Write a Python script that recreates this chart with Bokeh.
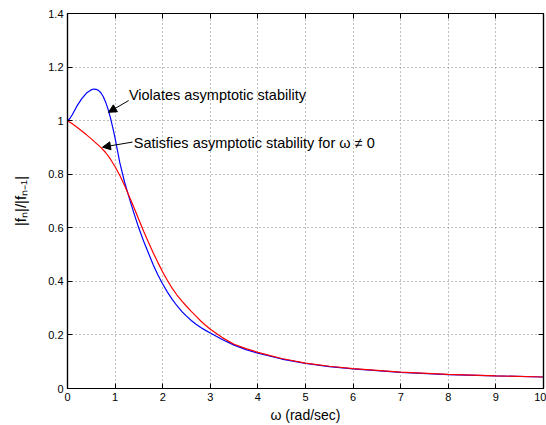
from bokeh.plotting import figure
from bokeh.models import FixedTicker, LinearAxis, Label, Arrow, NormalHead, Range1d
from bokeh.embed import file_html
from bokeh.resources import INLINE

# ---- data ----
x_ticks = [0, 1, 2, 3, 4, 5, 6, 7, 8, 9, 10]
x_tick_labels = ["0", "1", "2", "3", "4", "5", "6", "7", "8", "9", "10"]
y_ticks = [0, 0.2, 0.4, 0.6, 0.8, 1.0, 1.2, 1.4]
y_tick_labels = ["0", "0.2", "0.4", "0.6", "0.8", "1", "1.2", "1.4"]

omega_blue = [0, 0.05, 0.1, 0.2, 0.3, 0.4, 0.5, 0.55, 0.6, 0.65, 0.7, 0.75, 0.8,
              0.85, 0.9, 0.95, 1.0, 1.05, 1.1, 1.2, 1.3, 1.4, 1.5, 1.6, 1.7,
              1.8, 1.9, 2.0, 2.1, 2.2, 2.3, 2.4, 2.5, 2.6, 2.7, 2.8, 2.9, 3.0,
              3.25, 3.5, 3.75, 4.0, 4.5, 5, 5.5, 6, 7, 8, 9, 10]
ratio_blue = [1.0, 1.008, 1.022, 1.055, 1.082, 1.103, 1.115, 1.118, 1.117, 1.113,
              1.104, 1.09, 1.07, 1.044, 1.012, 0.975, 0.935, 0.888, 0.842, 0.77,
              0.71, 0.652, 0.598, 0.55, 0.506, 0.462, 0.424, 0.39, 0.36, 0.333,
              0.309, 0.288, 0.27, 0.254, 0.24, 0.228, 0.217, 0.207, 0.183, 0.162,
              0.145, 0.132, 0.11, 0.094, 0.082, 0.073, 0.06, 0.052, 0.047, 0.043]

omega_red = [0, 0.1, 0.2, 0.3, 0.4, 0.5, 0.6, 0.7, 0.8, 0.9, 1.0, 1.1, 1.2, 1.3,
             1.4, 1.5, 1.6, 1.7, 1.8, 1.9, 2.0, 2.1, 2.2, 2.3, 2.4, 2.5, 2.6,
             2.7, 2.8, 2.9, 3.0, 3.25, 3.5, 3.75, 4.0, 4.5, 5, 5.5, 6, 7, 8, 9, 10]
ratio_red = [1.0, 0.988, 0.975, 0.961, 0.947, 0.932, 0.916, 0.9, 0.881, 0.857,
             0.828, 0.795, 0.758, 0.716, 0.674, 0.63, 0.587, 0.546, 0.507, 0.47,
             0.435, 0.403, 0.374, 0.349, 0.327, 0.307, 0.288, 0.27, 0.252, 0.236,
             0.221, 0.19, 0.165, 0.149, 0.135, 0.112, 0.095, 0.083, 0.074, 0.061,
             0.053, 0.047, 0.043]

violates_text = "Violates asymptotic stability"
satisfies_text = "Satisfies asymptotic stability for \u03c9 \u2260 0"
x_label = "\u03c9 (rad/sec)"
y_label = "|f\u2099|/|f\u2099\u208b\u2081|"

FONT = "Liberation Sans"

p = figure(width=546, height=425, output_backend="svg", toolbar_location=None,
           x_range=Range1d(0, 10), y_range=Range1d(0, 1.4),
           min_border_left=67, min_border_right=3, min_border_top=13,
           min_border_bottom=36)
p.background_fill_color = "white"
p.border_fill_color = "white"
p.outline_line_color = "black"
p.outline_line_width = 1.2

p.line(omega_blue, ratio_blue, line_color="#0000ff", line_width=1.2)
p.line(omega_red, ratio_red, line_color="#ff0000", line_width=1.2)

# grid
for g, t in ((p.xgrid, x_ticks), (p.ygrid, y_ticks)):
    g.ticker = FixedTicker(ticks=t)
    g.grid_line_color = "#808080"
    g.grid_line_dash = "1 3"
    g.grid_line_width = 1

def style_axis(ax, ticks, labels, show_labels=True):
    ax.ticker = FixedTicker(ticks=ticks)
    ax.major_label_overrides = {t: l for t, l in zip(ticks, labels)}
    ax.major_tick_in = 5
    ax.major_tick_out = 0
    ax.minor_tick_line_color = None
    ax.axis_line_color = "black"
    ax.axis_line_width = 1.2
    ax.major_tick_line_color = "black"
    ax.major_label_text_font = FONT
    ax.major_label_text_color = "black"
    if show_labels:
        ax.major_label_text_font_size = "11px"
        ax.major_label_standoff = 4
    else:
        ax.major_label_text_font_size = "0px"
        ax.major_label_standoff = 0

style_axis(p.xaxis[0], x_ticks, x_tick_labels)
style_axis(p.yaxis[0], y_ticks, y_tick_labels)
for ax, lab, so, fs in ((p.xaxis[0], x_label, 3, "14px"),
                        (p.yaxis[0], y_label, 16, "15px")):
    ax.axis_label = lab
    ax.axis_label_text_font = FONT
    ax.axis_label_text_font_size = fs
    ax.axis_label_text_font_style = "normal"
    ax.axis_label_text_color = "black"
    ax.axis_label_standoff = so

top_ax = LinearAxis()
style_axis(top_ax, x_ticks, [""] * len(x_ticks), show_labels=False)
p.add_layout(top_ax, "above")
right_ax = LinearAxis()
style_axis(right_ax, y_ticks, [""] * len(y_ticks), show_labels=False)
p.add_layout(right_ax, "right")

# annotations
p.add_layout(Label(x=1.29, y=1.097, text=violates_text, text_font=FONT,
                   text_font_size="14.5px", text_baseline="alphabetic",
                   text_align="left", text_color="black"))
p.add_layout(Label(x=1.393, y=0.917, text=satisfies_text, text_font=FONT,
                   text_font_size="14.5px", text_baseline="alphabetic",
                   text_align="left", text_color="black"))
p.add_layout(Arrow(end=NormalHead(size=8, fill_color="black", line_color="black"),
                   x_start=1.285, y_start=1.075, x_end=0.861, y_end=1.031,
                   line_color="black", line_width=1))
p.add_layout(Arrow(end=NormalHead(size=8, fill_color="black", line_color="black"),
                   x_start=1.366, y_start=0.920, x_end=0.735, y_end=0.901,
                   line_color="black", line_width=1))

open("out.html", "w").write(file_html(p, INLINE))
